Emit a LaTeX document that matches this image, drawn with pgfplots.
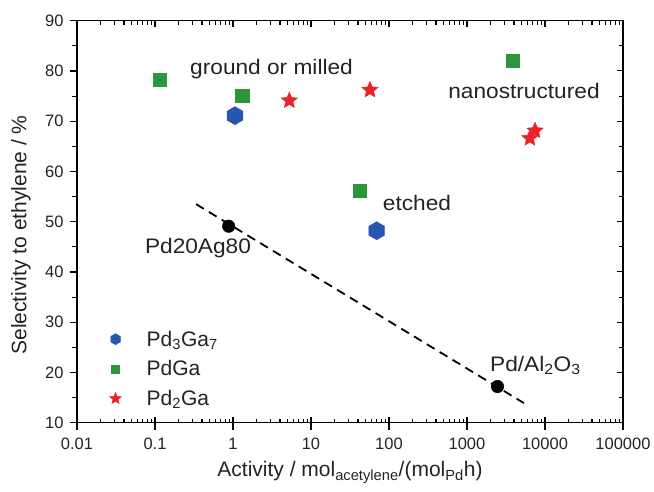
\documentclass[border=0pt]{standalone}
\usepackage{fontspec}
\setmainfont{Liberation Sans}
\newfontfamily\annfont[FakeStretch=1.08]{Liberation Sans}
\usepackage{pgfplots}
\pgfplotsset{compat=1.18}
\usetikzlibrary{plotmarks}

\definecolor{pblue}{RGB}{40,85,175}
\definecolor{pgreen}{RGB}{45,150,60}
\definecolor{pred}{RGB}{235,35,40}
\definecolor{ptext}{RGB}{35,35,35}

\pgfdeclareplotmark{hexagon}{%
  \pgfpathmoveto{\pgfpointpolar{90}{\pgfplotmarksize}}%
  \pgfpathlineto{\pgfpointpolar{150}{\pgfplotmarksize}}%
  \pgfpathlineto{\pgfpointpolar{210}{\pgfplotmarksize}}%
  \pgfpathlineto{\pgfpointpolar{270}{\pgfplotmarksize}}%
  \pgfpathlineto{\pgfpointpolar{330}{\pgfplotmarksize}}%
  \pgfpathlineto{\pgfpointpolar{30}{\pgfplotmarksize}}%
  \pgfpathclose
  \pgfusepathqfillstroke}

\pgfdeclareplotmark{fstar}{%
  \pgfpathmoveto{\pgfpointpolar{90}{\pgfplotmarksize}}%
  \pgfpathlineto{\pgfpointpolar{126}{0.45\pgfplotmarksize}}%
  \pgfpathlineto{\pgfpointpolar{162}{\pgfplotmarksize}}%
  \pgfpathlineto{\pgfpointpolar{198}{0.45\pgfplotmarksize}}%
  \pgfpathlineto{\pgfpointpolar{234}{\pgfplotmarksize}}%
  \pgfpathlineto{\pgfpointpolar{270}{0.45\pgfplotmarksize}}%
  \pgfpathlineto{\pgfpointpolar{306}{\pgfplotmarksize}}%
  \pgfpathlineto{\pgfpointpolar{342}{0.45\pgfplotmarksize}}%
  \pgfpathlineto{\pgfpointpolar{18}{\pgfplotmarksize}}%
  \pgfpathlineto{\pgfpointpolar{54}{0.45\pgfplotmarksize}}%
  \pgfpathclose
  \pgfusepathqfillstroke}

\pgfplotsset{
  every axis/.append style={
    width=546bp, height=402bp, scale only axis,
    at={(0,0)}, anchor=south west,
    xmin=0.01, xmax=100000, ymin=10, ymax=90,
    axis line style={line width=1.3bp, black},
    tick style={black, line width=1.1bp},
    xtick={0.01,0.1,1,10,100,1000,10000,100000},
    ytick={10,20,30,40,50,60,70,80,90},
    minor ytick={15,25,35,45,55,65,75,85},
  },
  legimg/.style={legend image code/.code={%
    \draw[##1, mark size=#1] plot coordinates {(13bp,0bp)};
    \path (0bp,0bp) (42bp,0bp);}},
}

\begin{document}
\begin{tikzpicture}
\path[use as bounding box] (-77bp,-69.3bp) rectangle (577bp,422.7bp);

% axis with outward ticks, tick labels and axis labels
\begin{semilogxaxis}[
  tick align=outside,
  xtick pos=bottom, ytick pos=left,
  xminorticks=false,
  major tick length=7bp, minor tick length=4.5bp,
  xticklabels={0.01,0.1,1,10,100,1000,10000,100000},
  yticklabels={10,20,30,40,50,60,70,80,90},
  ticklabel style={font=\fontsize{16.5bp}{18bp}\selectfont, text=ptext},
  xticklabel style={yshift=-5bp},
  yticklabel style={xshift=-3bp},
  xlabel={Activity / mol\textsubscript{acetylene}/(mol\textsubscript{Pd}h)},
  ylabel={Selectivity to ethylene / \%},
  label style={font=\fontsize{21bp}{24bp}\selectfont, text=ptext},
  xlabel style={at={(axis description cs:0.5,-0.135)}, anchor=base},
  ylabel style={at={(axis description cs:-0.1026,0.467)}, anchor=center},
]
\end{semilogxaxis}

% main axis: data, inward ticks
\begin{semilogxaxis}[
  tick align=inside,
  xtick pos=both, ytick pos=right,
  xticklabels={}, yticklabels={},
  major tick length=6bp, minor tick length=4bp,
  legend style={at={(rel axis cs:0.046,0.234)}, anchor=north west,
    draw=none, fill=none, inner sep=0pt, row sep=9bp,
    font=\fontsize{21bp}{24bp}\selectfont, text=ptext},
  legend cell align=left,
]
\addplot[black, dash pattern=on 9bp off 6bp, line width=1.8bp, forget plot]
  coordinates {(0.336,53.5) (5370,13.9)};
\addplot[only marks, mark=*, mark size=6.3bp, black, forget plot]
  coordinates {(0.88,49.1) (2460,17.2)};

\addplot[only marks, mark=hexagon, mark size=9bp, draw=pblue, fill=pblue,
  mark options={solid, line width=0.5bp}, legimg=5.5bp]
  coordinates {(1.06,71.1) (69.5,48.2)};
\addlegendentry{Pd\textsubscript{3}Ga\textsubscript{7}}

\addplot[only marks, mark=square*, mark size=6.7bp, draw=pgreen, fill=pgreen,
  mark options={solid, line width=0.5bp}, legimg=4bp]
  coordinates {(0.116,78.2) (1.32,75.1) (42.5,56.2) (3850,82.0)};
\addlegendentry{PdGa}

\addplot[only marks, mark=fstar, mark size=8.5bp, draw=pred, fill=pred,
  mark options={solid, line width=0.5bp}, legimg=6bp]
  coordinates {(5.27,74.1) (57,76.2) (7450,68.1) (6400,66.6)};
\addlegendentry{Pd\textsubscript{2}Ga}

\node[font=\annfont\fontsize{21bp}{24bp}\selectfont, text=ptext, anchor=base]
  at (axis cs:3.12,79.2) {ground or milled};
\node[font=\annfont\fontsize{21bp}{24bp}\selectfont, text=ptext, anchor=base]
  at (axis cs:5380,74.5) {nanostructured};
\node[font=\annfont\fontsize{21bp}{24bp}\selectfont, text=ptext, anchor=base]
  at (axis cs:228.6,52.3) {etched};
\node[font=\annfont\fontsize{21bp}{24bp}\selectfont, text=ptext, anchor=base]
  at (axis cs:0.356,43.6) {Pd20Ag80};
\node[font=\annfont\fontsize{21bp}{24bp}\selectfont, text=ptext, anchor=base west, inner sep=0pt]
  at (axis cs:1972,20.15) {Pd/Al\textsubscript{2}O\textsubscript{3}};
\end{semilogxaxis}
\end{tikzpicture}
\end{document}
